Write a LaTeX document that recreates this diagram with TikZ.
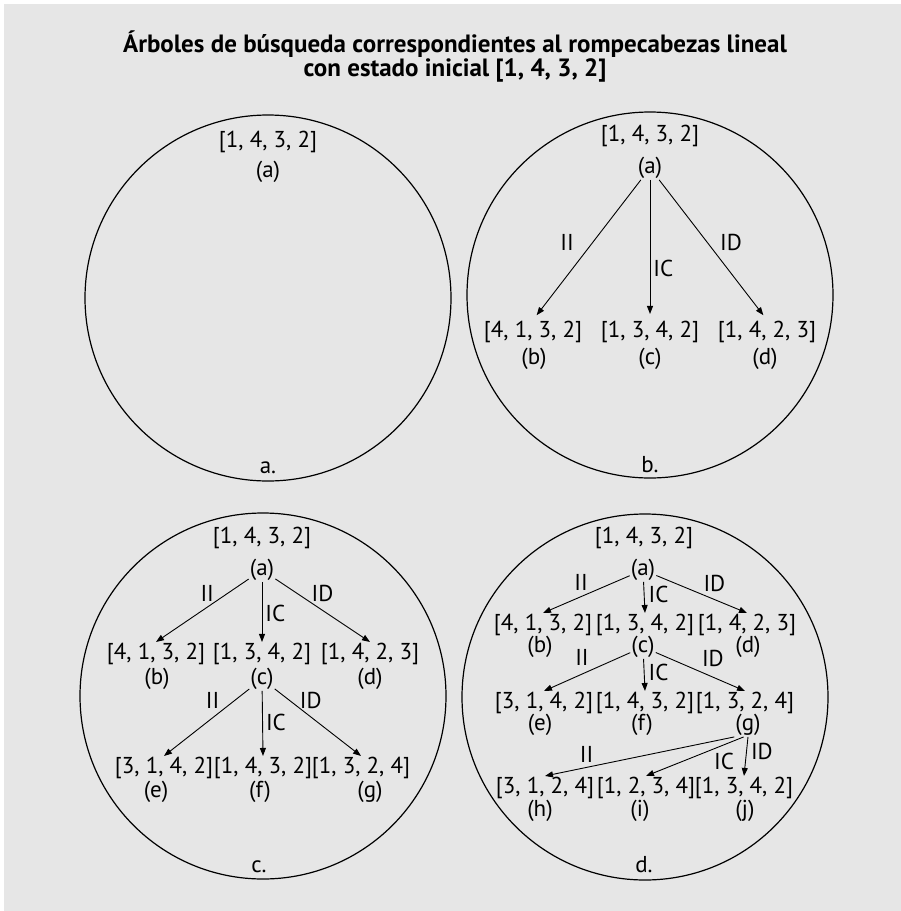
\documentclass[tikz,border=0pt]{standalone}
\usepackage{fontspec}
\setmainfont{PT Sans}
\usepackage{tikz}
\usetikzlibrary{arrows.meta, positioning}
\definecolor{fondo}{HTML}{E6E6E6}

\begin{document}
\begin{tikzpicture}[x=1pt, y=-1pt, >={Triangle[length=8pt, width=6pt]},
    estado/.style={font=\fontsize{23}{26}\selectfont, inner sep=1pt},
    letra/.style={font=\fontsize{23}{26}\selectfont, inner sep=1pt},
    mov/.style={font=\fontsize{23}{26}\selectfont, inner sep=0pt},
    flecha/.style={->, line width=0.9pt},
    marco/.style={line width=1.2pt},
    titulo/.style={font=\fontsize{25}{24}\selectfont\bfseries, align=center}]
    % Fondo gris y tamaño de la figura
    \useasboundingbox (0,0) rectangle (901,911);
    \fill[white] (0,0) rectangle (901,911);
    \fill[fondo] (4,4) rectangle (901,911);

    % Título
    \node[titulo] (tit) at (455,56) {Árboles de búsqueda correspondientes al rompecabezas lineal\\con estado inicial [1, 4, 3, 2]};

    % a. Solo el estado inicial
    \draw[marco] (268,298) circle[radius=183];
    \node[estado] (aas) at (268,142) {[1, 4, 3, 2]};
    \node[letra] (aa) at (268,172) {(a)};
    \node[estado] (capa) at (268,468) {a.};

    % b. Primer nivel del árbol
    \draw[marco] (650,295) circle[radius=183];
    \node[estado] (bas) at (650,136) {[1, 4, 3, 2]};
    \node[letra] (ba) at (650,168) {(a)};
    \node[estado] (bbs) at (533,332) {[4, 1, 3, 2]};
    \node[estado] (bcs) at (650,332) {[1, 3, 4, 2]};
    \node[estado] (bds) at (767,332) {[1, 4, 2, 3]};
    \node[letra] (bb) at (534,359) {(b)};
    \node[letra] (bc) at (650,359) {(c)};
    \node[letra] (bd) at (765,359) {(d)};
    \draw[flecha, shorten >=6pt] (ba) -- (bbs.north) node[mov, pos=.45, left=18pt] {II};
    \draw[flecha, shorten >=6pt] (ba) -- (bcs.north) node[mov, pos=.63, right=3pt] {IC};
    \draw[flecha, shorten >=6pt] (ba) -- (bds.north) node[mov, pos=.45, right=12pt] {ID};
    \node[estado] (capb) at (650,465) {b.};

    % c. Se expande el nodo (c)
    \draw[marco] (263,696) circle[radius=183];
    \node[estado] (cas) at (262,538) {[1, 4, 3, 2]};
    \node[letra] (ca) at (262,570) {(a)};
    \node[estado] (cbs) at (156,654) {[4, 1, 3, 2]};
    \node[estado] (ccs) at (262,654) {[1, 3, 4, 2]};
    \node[estado] (cds) at (370,654) {[1, 4, 2, 3]};
    \node[letra] (cb) at (157,679) {(b)};
    \node[letra] (cc) at (262,679) {(c)};
    \node[letra] (cd) at (370,679) {(d)};
    \node[estado] (ces) at (164,768) {[3, 1, 4, 2]};
    \node[estado] (cfs) at (263,768) {[1, 4, 3, 2]};
    \node[estado] (cgs) at (361,768) {[1, 3, 2, 4]};
    \node[letra] (ce) at (156,792) {(e)};
    \node[letra] (cf) at (260,792) {(f)};
    \node[letra] (cg) at (370,792) {(g)};
    \draw[flecha] (ca) -- (cbs.north) node[mov, pos=.23, left=13pt] {II};
    \draw[flecha] (ca) -- (ccs.north) node[mov, pos=.52, right=3pt] {IC};
    \draw[flecha] (ca) -- (cds.north) node[mov, pos=.23, right=14pt] {ID};
    \draw[flecha] (cc) -- (ces.north) node[mov, pos=.17, left=15pt] {II};
    \draw[flecha] (cc) -- (cfs.north) node[mov, pos=.48, right=3pt] {IC};
    \draw[flecha] (cc) -- (cgs.north) node[mov, pos=.17, right=10pt] {ID};
    \node[estado] (capc) at (259,867) {c.};

    % d. Se expande el nodo (g)
    \draw[marco] (645,697) circle[radius=183];
    \node[estado] (das) at (644,538) {[1, 4, 3, 2]};
    \node[letra] (da) at (643,570) {(a)};
    \node[estado] (dbs) at (543,625) {[4, 1, 3, 2]};
    \node[estado] (dcs) at (645,625) {[1, 3, 4, 2]};
    \node[estado] (dds) at (747,625) {[1, 4, 2, 3]};
    \node[letra] (db) at (540,647) {(b)};
    \node[letra] (dc) at (643,647) {(c)};
    \node[letra] (dd) at (748,647) {(d)};
    \node[estado] (des) at (544,703) {[3, 1, 4, 2]};
    \node[estado] (dfs) at (645,703) {[1, 4, 3, 2]};
    \node[estado] (dgs) at (745,703) {[1, 3, 2, 4]};
    \node[letra] (de) at (540,725) {(e)};
    \node[letra] (df) at (642,725) {(f)};
    \node[letra] (dg) at (748,725) {(g)};
    \node[estado] (dhs) at (545,788) {[3, 1, 2, 4]};
    \node[estado] (dis) at (646,788) {[1, 2, 3, 4]};
    \node[estado] (djs) at (744,788) {[1, 3, 4, 2]};
    \node[letra] (dh) at (540,811) {(h)};
    \node[letra] (di) at (640,811) {(i)};
    \node[letra] (dj) at (745,811) {(j)};
    \draw[flecha] (da) -- (dbs.north) node[mov, pos=.56, above=6pt] {II};
    \draw[flecha] (da) -- (dcs.north) node[mov, pos=.41, right=4pt] {IC};
    \draw[flecha] (da) -- (dds.north) node[mov, pos=.64, above=7pt] {ID};
    \draw[flecha] (dc) -- (des.north) node[mov, pos=.56, above=8pt] {II};
    \draw[flecha] (dc) -- (dfs.north) node[mov, pos=.43, right=4pt] {IC};
    \draw[flecha] (dc) -- (dgs.north) node[mov, pos=.64, above=10pt] {ID};
    \draw[flecha] (dg.south west) -- (dhs.north) node[mov, pos=.78, above=4pt] {II};
    \draw[flecha] (dg.-110) -- (dis.north) node[mov, pos=.2, below=8pt] {IC};
    \draw[flecha] (dg.south) -- (djs.north) node[mov, pos=.36, right=4pt] {ID};
    \node[estado] (capd) at (644,865) {d.};
\end{tikzpicture}
\end{document}
